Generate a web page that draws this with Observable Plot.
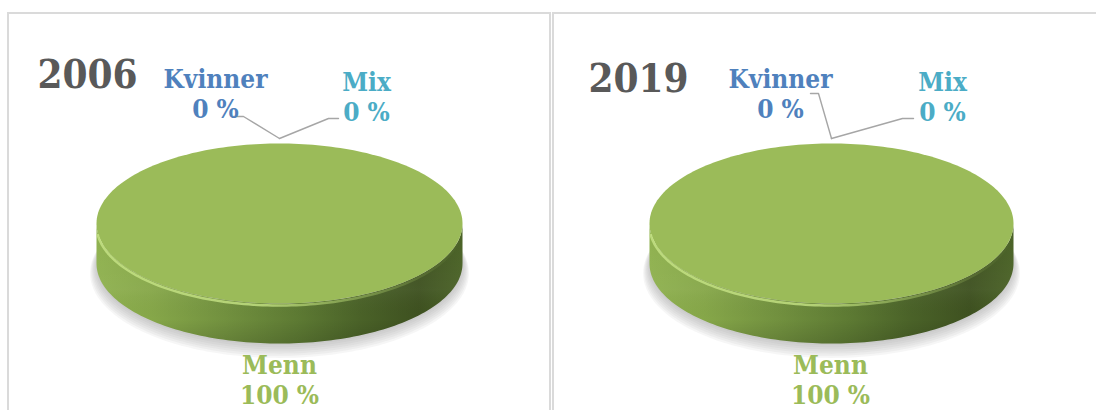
<!DOCTYPE html>
<html><head><meta charset="utf-8">
<script src="https://cdn.jsdelivr.net/npm/d3@7"></script>
<script src="https://cdn.jsdelivr.net/npm/@observablehq/plot@0.6"></script>
<style>
html,body{margin:0;padding:0;background:#fff;}
#root{position:relative;width:1096px;height:410px;overflow:hidden;background:#fff;}
.panel{position:absolute;top:12px;height:430px;box-sizing:border-box;border:2px solid #dadada;border-bottom:none;}
.chart{position:absolute;top:12px;}
</style></head>
<body><div id="root"></div>
<script>
// ---- data ----
const years = ["2006", "2019"];
const categories = ["Menn", "Kvinner", "Mix"];
const shares2006 = [100, 0, 0];
const shares2019 = [100, 0, 0];
const seriesByYear = [shares2006, shares2019];
const categoryColors = ["#9bbb59", "#4f81bd", "#4bacc6"];

// ---- layout (panel-local pixels) ----
const FONT = "'DejaVu Serif Condensed', 'DejaVu Serif', 'Liberation Serif', serif";
const panels = [
  {left: 7, width: 544, boxW: 544, cx: 272, rx: 183, top: 131, ry: 80, depth: 40,
   title: {x: 30, base: 75},
   labels: {Menn: {x: 272, base: 358}, Kvinner: {x: 208, base: 72}, Mix: {x: 359, base: 75}},
   leaders: {Kvinner: [[226, 104], [236, 104]], Mix: [[331, 106], [321, 106]]}},
  {left: 551, width: 545, boxW: 600, cx: 280, rx: 182, top: 131, ry: 80, depth: 40,
   title: {x: 37, base: 79},
   labels: {Menn: {x: 279, base: 358}, Kvinner: {x: 229, base: 72}, Mix: {x: 391, base: 75}},
   leaders: {Kvinner: [[259, 81], [267, 81]], Mix: [[362, 106], [351, 106]]}}
];
const titleSize = 40, labelSize = 26, labelLH = 1.18;
const shadowLayers = 7;

const root = document.getElementById("root");

panels.forEach((P, i) => {
  const box = document.createElement("div");
  box.className = "panel";
  box.style.left = (i === 0 ? P.left : P.left + 1) + "px";
  box.style.width = P.boxW + "px";
  root.appendChild(box);

  const values = seriesByYear[i];
  const rows = categories.map((c, j) => ({name: c, value: values[j], color: categoryColors[j]}));
  const arcs = d3.pie().sort(null).value(d => d.value)(rows);
  const dz = P.depth / P.ry;
  const height = 398;
  const toU = ([px, py]) => ({x: (px - P.cx) / P.rx, y: 1 - (py - P.top) / P.ry});
  const arcPts = (a0, a1, yOff, k = 1, ky = 1) => {
    const n = Math.max(2, Math.ceil((a1 - a0) / (2 * Math.PI) * 240));
    return d3.range(n + 1).map(t => {
      const a = a0 + (a1 - a0) * t / n;
      return {x: Math.sin(a) * k, y: Math.cos(a) * ky + yOff};
    });
  };

  const visible = arcs.filter(a => a.endAngle - a.startAngle > 1e-9);
  const topFaces = visible.flatMap(a => {
    const full = a.endAngle - a.startAngle > 2 * Math.PI - 1e-6;
    const pts = arcPts(a.startAngle, a.endAngle, 0);
    return (full ? pts : [{x: 0, y: 0}, ...pts, {x: 0, y: 0}]).map(p => ({...p, name: a.data.name, color: a.data.color}));
  });
  const sides = visible.flatMap(a => {
    const a0 = Math.max(a.startAngle, Math.PI / 2), a1 = Math.min(a.endAngle, 3 * Math.PI / 2);
    if (a1 <= a0) return [];
    const up = arcPts(a0, a1, 0), down = arcPts(a0, a1, -dz).reverse();
    return [...up, ...down].map(p => ({...p, name: a.data.name}));
  });
  // soft drop shadow: stacked translucent ellipses under the base
  const shadow = d3.range(shadowLayers).flatMap(s => {
    const t = s / (shadowLayers - 1);
    return arcPts(0, 2 * Math.PI, -dz - 0.02 - 0.1 * t, 1.0 + 0.035 * t, 1.0 + 0.06 * t).map(p => ({...p, name: "s" + s}));
  });
  const highlight = arcPts(Math.PI / 2 + 0.12, 3 * Math.PI / 2 - 0.12, -0.025);

  const leaders = arcs.filter(a => P.leaders[a.data.name]).flatMap(a => {
    const mid = (a.startAngle + a.endAngle) / 2;
    const end = {x: Math.sin(mid) * 1.03, y: Math.cos(mid) * 1.0625};
    return [...P.leaders[a.data.name].map(toU), end].map(p => ({...p, name: a.data.name}));
  });

  const labels = arcs.map(a => {
    const L = P.labels[a.data.name];
    const u = toU([L.x, L.base - 0.71 * labelSize]);
    return {x: u.x, y: u.y, text: `${a.data.name}\n${Math.round(a.value / d3.sum(values) * 100)} %`, color: a.data.color};
  });
  const tU = toU([P.title.x, P.title.base - 0.71 * titleSize]);
  const titleRow = [{x: tU.x, y: tU.y, text: years[i]}];

  const yMin = -1 - dz;
  const plot = Plot.plot({
    width: P.width, height,
    marginTop: 0, marginRight: 0, marginBottom: 0, marginLeft: 0,
    x: {domain: [-1, 1], range: [P.cx - P.rx, P.cx + P.rx], axis: null},
    y: {domain: [yMin, 1], range: [P.top + (1 - yMin) * P.ry, P.top], axis: null},
    style: {background: "transparent", overflow: "visible"},
    marks: [
      Plot.line(shadow, {x: "x", y: "y", z: "name", fill: "#8c8c8c", fillOpacity: 0.075, stroke: "none"}),
      Plot.line(sides, {x: "x", y: "y", z: "name", fill: `url(#side${i})`, stroke: "none"}),
      Plot.line(sides, {x: "x", y: "y", z: "name", fill: `url(#sideV${i})`, stroke: "none"}),
      Plot.line(topFaces, {x: "x", y: "y", z: "name", fill: "#9bbb59", stroke: "none"}),
      Plot.line(highlight, {x: "x", y: "y", stroke: `url(#hl${i})`, strokeWidth: 2.5}),
      Plot.line(leaders, {x: "x", y: "y", z: "name", stroke: "#a6a6a6", strokeWidth: 1.4}),
      ...labels.map(l => Plot.text([l], {x: "x", y: "y", text: "text", fill: l.color, fontSize: labelSize, fontWeight: "bold",
        fontFamily: FONT, lineAnchor: "top", lineHeight: labelLH, textAnchor: "middle"})),
      Plot.text(titleRow, {x: "x", y: "y", text: "text", fill: "#595959", fontSize: titleSize, fontWeight: "bold",
        fontFamily: FONT, lineAnchor: "top", textAnchor: "start"})
    ]
  });
  plot.classList.add("chart");
  plot.style.position = "absolute";
  plot.style.left = P.left + "px";
  plot.style.top = "12px";
  root.appendChild(plot);

  const svg = d3.select(plot);
  const defs = svg.insert("defs", ":first-child");
  const g1 = defs.append("linearGradient").attr("id", `side${i}`).attr("x1", 0).attr("x2", 1).attr("y1", 0).attr("y2", 0);
  [[0, "#8fb14f"], [0.15, "#86a749"], [0.35, "#72913f"], [0.55, "#5d7a33"], [0.72, "#4a6228"], [0.88, "#3e5120"], [1, "#4a6226"]]
    .forEach(([o, c]) => g1.append("stop").attr("offset", o).attr("stop-color", c));
  const g2 = defs.append("linearGradient").attr("id", `sideV${i}`).attr("x1", 0).attr("x2", 0).attr("y1", 0).attr("y2", 1);
  [[0, "#ffffff", 0.0], [0.55, "#ffffff", 0.04], [0.8, "#000000", 0.0], [1, "#000000", 0.12]]
    .forEach(([o, c, op]) => g2.append("stop").attr("offset", o).attr("stop-color", c).attr("stop-opacity", op));
  const g3 = defs.append("linearGradient").attr("id", `hl${i}`).attr("gradientUnits", "userSpaceOnUse")
    .attr("x1", P.cx - P.rx).attr("x2", P.cx + P.rx).attr("y1", 0).attr("y2", 0);
  [[0, "#c4e184", 0.85], [0.45, "#c0de80", 0.85], [0.75, "#a9c86a", 0.45], [1, "#9bbb59", 0]]
    .forEach(([o, c, op]) => g3.append("stop").attr("offset", o).attr("stop-color", c).attr("stop-opacity", op));
});
</script>
</body></html>
